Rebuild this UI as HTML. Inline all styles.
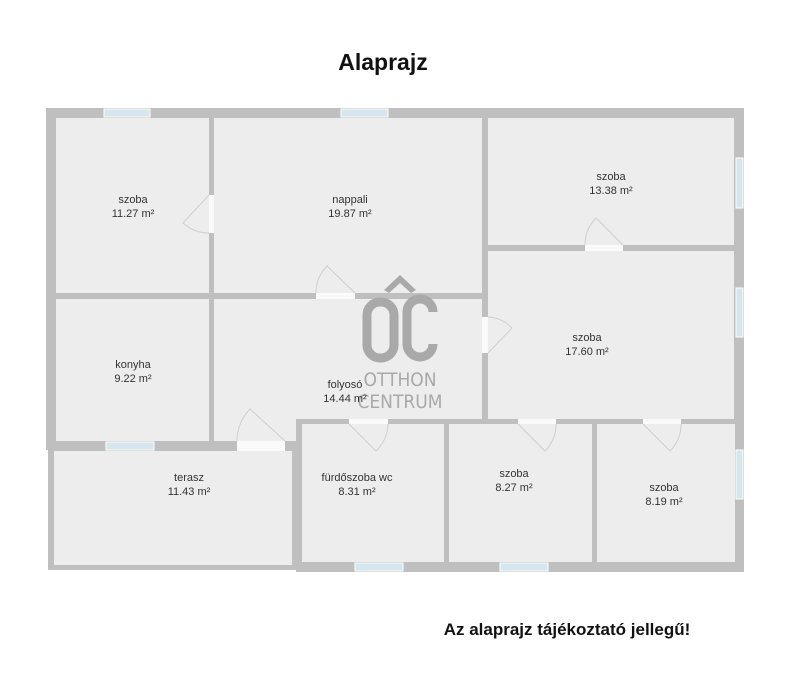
<!DOCTYPE html>
<html><head><meta charset="utf-8"><style>
body{margin:0;background:#fff;width:800px;height:683px;overflow:hidden;font-family:"Liberation Sans",sans-serif}
</style></head><body>
<svg width="800" height="683" xmlns="http://www.w3.org/2000/svg" font-family="Liberation Sans, DejaVu Sans, sans-serif">
<text x="383" y="70" font-size="23" font-weight="bold" text-anchor="middle" fill="#111">Alaprajz</text>
<g fill="#bfbfbf">
<rect x="46" y="108" width="698" height="342"/>
<rect x="48" y="443" width="250" height="127"/>
<rect x="296" y="419" width="448" height="153"/>
</g>
<g fill="#ededed">
<rect x="56" y="118" width="153" height="175"/>
<rect x="214" y="118" width="268" height="175"/>
<rect x="488" y="118" width="246" height="127"/>
<rect x="488" y="251" width="246" height="168"/>
<rect x="56" y="299" width="153" height="142"/>
<rect x="214" y="299" width="268" height="120"/>
<rect x="214" y="419" width="82" height="22"/>
<rect x="54" y="451" width="238" height="114"/>
<rect x="302" y="424" width="142" height="138"/>
<rect x="449" y="424" width="143" height="138"/>
<rect x="597" y="424" width="138" height="138"/>
</g>
<g fill="#d6e6ee" stroke="#fff" stroke-width="1">
<rect x="104" y="109" width="46" height="8"/>
<rect x="341" y="109" width="47" height="8"/>
<rect x="106" y="442" width="48" height="8"/>
<rect x="355" y="563" width="48" height="8"/>
<rect x="500" y="563" width="48" height="8"/>
<rect x="736" y="158" width="7" height="50"/>
<rect x="736" y="288" width="7" height="49"/>
<rect x="736" y="450" width="7" height="49"/>
</g>
<g fill="#fafafa">
<rect x="209" y="195" width="5" height="38"/>
<rect x="316" y="293" width="39" height="6"/>
<rect x="585" y="245" width="38" height="6"/>
<rect x="482" y="317" width="6" height="36"/>
<rect x="237" y="441" width="48" height="10"/>
<rect x="349" y="419" width="39" height="5"/>
<rect x="518" y="419" width="38" height="5"/>
<rect x="643" y="419" width="38" height="5"/>
</g>
<g fill="none" stroke="#cfcfcf" stroke-width="1">
<path d="M209 195 L183 223 A38 38 0 0 0 209 233"/>
<path d="M316 293 A39 39 0 0 1 327 266 L355 293"/>
<path d="M585 245 A38 38 0 0 1 596 218 L623 245"/>
<path d="M488 317 A36 36 0 0 1 512 328 L488 353"/>
<path d="M237 441 A45 45 0 0 1 250 409 L285 441"/>
<path d="M349 424 L376 451 A38 38 0 0 0 388 424"/>
<path d="M518 424 L545 451 A38 38 0 0 0 556 424"/>
<path d="M643 424 L670 451 A38 38 0 0 0 681 424"/>
</g>
<g fill="#a9a9a9">
<path d="M384 290 L400 275 L416 290 L411 293 L400 283 L389 293 Z"/>
<rect x="367" y="302" width="27" height="56" rx="13" fill="none" stroke="#a9a9a9" stroke-width="9"/>
<path d="M433 312 A13 13 0 0 0 407 312 L407 344 A13 13 0 0 0 433 344" fill="none" stroke="#a9a9a9" stroke-width="9"/>
<text x="400" y="386" font-size="19" text-anchor="middle" font-family="DejaVu Sans Condensed, Liberation Sans Narrow, sans-serif">OTTHON</text>
<text x="400" y="408" font-size="19" text-anchor="middle" font-family="DejaVu Sans Condensed, Liberation Sans Narrow, sans-serif">CENTRUM</text>
</g>
<g font-size="11" fill="#333" text-anchor="middle">
<text x="133" y="203">szoba</text><text x="133" y="217">11.27 m²</text>
<text x="350" y="203">nappali</text><text x="350" y="217">19.87 m²</text>
<text x="611" y="180">szoba</text><text x="611" y="194">13.38 m²</text>
<text x="587" y="341">szoba</text><text x="587" y="355">17.60 m²</text>
<text x="133" y="368">konyha</text><text x="133" y="382">9.22 m²</text>
<text x="345" y="388">folyosó</text><text x="345" y="402">14.44 m²</text>
<text x="189" y="481">terasz</text><text x="189" y="495">11.43 m²</text>
<text x="357" y="481">fürdőszoba wc</text><text x="357" y="495">8.31 m²</text>
<text x="514" y="477">szoba</text><text x="514" y="491">8.27 m²</text>
<text x="664" y="491">szoba</text><text x="664" y="505">8.19 m²</text>
</g>
<text x="567" y="635" font-size="17" font-weight="bold" text-anchor="middle" fill="#111">Az alaprajz tájékoztató jellegű!</text>
</svg>
</body></html>
